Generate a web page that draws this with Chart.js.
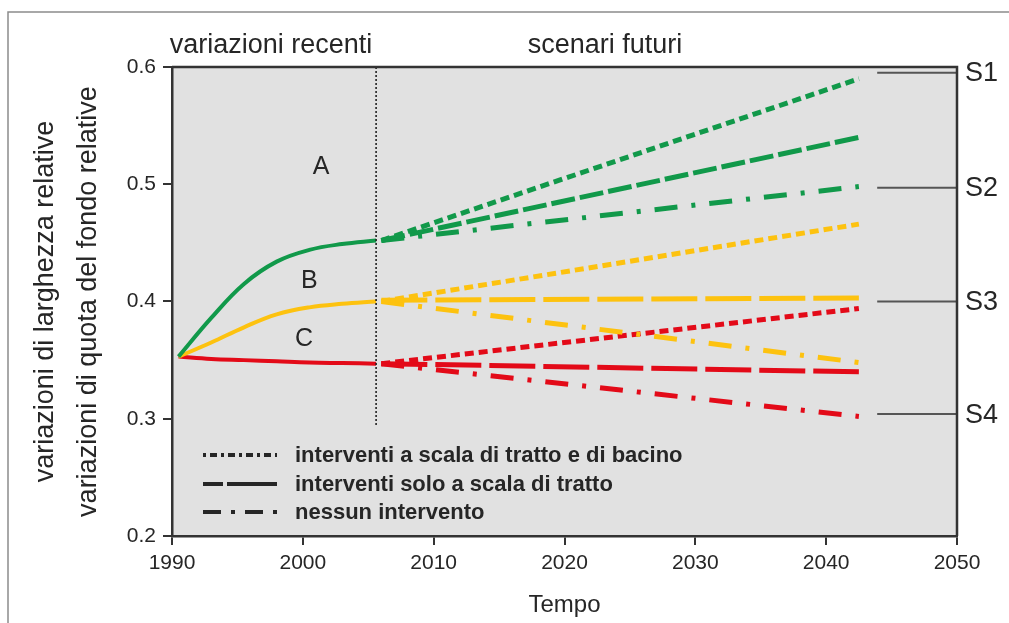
<!DOCTYPE html>
<html>
<head>
<meta charset="utf-8">
<script src="https://cdn.jsdelivr.net/npm/chart.js@4.4.0/dist/chart.umd.min.js"></script>
<style>
  html, body { margin: 0; padding: 0; background: #fff; }
  #wrap { position: relative; width: 1009px; height: 623px; }
</style>
</head>
<body>
<div id="wrap"><canvas id="chart"></canvas></div>
<script>
// --- DATA ---
// recent variations (1990 - 2005)
const histYears  = [1990.5, 1993, 1995.5, 1998, 2000.5, 2003, 2005.6];
const histGreen  = [0.353, 0.386, 0.415, 0.434, 0.444, 0.449, 0.452];
const histYellow = [0.353, 0.365, 0.378, 0.389, 0.395, 0.398, 0.400];
const histRed    = [0.353, 0.351, 0.350, 0.349, 0.348, 0.3475, 0.347];

// future scenarios: start / end of each line
const futYears = [2006, 2042.5];
const futGreen  = { basin: [0.452, 0.590], reach: [0.452, 0.540], none: [0.452, 0.498] };
const futYellow = { basin: [0.400, 0.466], reach: [0.401, 0.403], none: [0.400, 0.348] };
const futRed    = { basin: [0.347, 0.394], reach: [0.347, 0.340], none: [0.347, 0.302] };

// scenario levels on the right
const scenLabels = ["S1", "S2", "S3", "S4"];
const scenValues = [0.595, 0.497, 0.400, 0.304];
const scenYears  = [2043.9, 2050];

// divider between recent and future
const dividerYear = 2005.6;
const dividerRange = [0.6, 0.293];

// area letters
const areaLabels = ["A", "B", "C"];
const areaYears  = [2001.4, 2000.5, 2000.1];
const areaValues = [0.515, 0.417, 0.368];

const legendLabels = [
  "interventi a scala di tratto e di bacino",
  "interventi solo a scala di tratto",
  "nessun intervento"
];

const xTicks = [1990, 2000, 2010, 2020, 2030, 2040, 2050];
const yTicks = [0.2, 0.3, 0.4, 0.5, 0.6];

// --- STYLE ---
const GREEN = '#11994a';
const YELLOW = '#fdc20f';
const RED = '#e30a18';
const INK = '#262626';
const FONT = '"Liberation Sans", Arial, sans-serif';

const DASH_BASIN = [9, 5];
const DASH_REACH_G = [24, 5];
const DASH_REACH = [46, 8];
const DASH_NONE = [23, 14, 4, 14];

function pts(xs, ys) { return xs.map((x, i) => ({ x: x, y: ys[i] })); }

function hist(values, color) {
  return { data: pts(histYears, values), borderColor: color, borderWidth: 4,
           tension: 0.4, pointRadius: 0 };
}
function fut(values, color, dash) {
  return { data: pts(futYears, values), borderColor: color, borderWidth: 5,
           borderDash: dash, pointRadius: 0, borderCapStyle: 'butt' };
}

const datasets = [
  { data: [{ x: dividerYear, y: dividerRange[0] }, { x: dividerYear, y: dividerRange[1] }],
    borderColor: '#222', borderWidth: 1.6, borderDash: [2, 2], pointRadius: 0 },
  hist(histGreen, GREEN), hist(histYellow, YELLOW), hist(histRed, RED),
  fut(futGreen.basin, GREEN, DASH_BASIN), fut(futGreen.reach, GREEN, DASH_REACH_G), fut(futGreen.none, GREEN, DASH_NONE),
  fut(futYellow.basin, YELLOW, DASH_BASIN), fut(futYellow.reach, YELLOW, DASH_REACH), fut(futYellow.none, YELLOW, DASH_NONE),
  fut(futRed.basin, RED, DASH_BASIN), fut(futRed.reach, RED, DASH_REACH), fut(futRed.none, RED, DASH_NONE)
];
scenValues.forEach(v => {
  datasets.push({ data: [{ x: scenYears[0], y: v }, { x: scenYears[1], y: v }],
                  borderColor: '#555', borderWidth: 2, pointRadius: 0 });
});

// --- extra drawing: background, frame, texts, legend ---
const decor = {
  id: 'decor',
  beforeDraw(chart) {
    const { ctx, chartArea: a } = chart;
    ctx.save();
    ctx.fillStyle = '#e1e1e1';
    ctx.fillRect(a.left, a.top, a.right - a.left, a.bottom - a.top);
    // outer figure border (top + left)
    ctx.strokeStyle = '#8c8c8c';
    ctx.lineWidth = 1.5;
    ctx.beginPath();
    ctx.moveTo(1009, 12); ctx.lineTo(8, 12); ctx.lineTo(8, 623);
    ctx.stroke();
    ctx.restore();
  },
  afterDraw(chart) {
    const { ctx, chartArea: a, scales } = chart;
    const xs = scales.x, ys = scales.y;
    ctx.save();
    // top + right frame
    ctx.strokeStyle = '#333';
    ctx.lineWidth = 2.5;
    ctx.beginPath();
    ctx.moveTo(a.left, a.top); ctx.lineTo(a.right, a.top); ctx.lineTo(a.right, a.bottom);
    ctx.stroke();

    ctx.fillStyle = INK;
    ctx.textBaseline = 'middle';
    ctx.textAlign = 'center';
    ctx.font = '27px ' + FONT;
    ctx.fillText('variazioni recenti', 271, 46);
    ctx.fillText('scenari futuri', 605, 46);

    ctx.font = '25px ' + FONT;
    areaLabels.forEach((t, i) => {
      ctx.fillText(t, xs.getPixelForValue(areaYears[i]), ys.getPixelForValue(areaValues[i]));
    });

    ctx.textAlign = 'left';
    ctx.font = '27px ' + FONT;
    scenLabels.forEach((t, i) => {
      ctx.fillText(t, a.right + 8, ys.getPixelForValue(scenValues[i]) + 1);
    });

    // legend
    const lx0 = a.left + 31, lx1 = a.left + 105, tx = a.left + 123;
    const rows = [a.top + 388, a.top + 417, a.top + 445];
    const dashes = [[3, 4, 7, 4], [20, 4, 50, 0], [18, 10, 4, 10]];
    ctx.strokeStyle = INK;
    ctx.lineWidth = 4;
    rows.forEach((y, i) => {
      ctx.setLineDash(dashes[i]);
      ctx.beginPath();
      ctx.moveTo(lx0, y); ctx.lineTo(lx1, y);
      ctx.stroke();
    });
    ctx.setLineDash([]);
    ctx.font = 'bold 22px ' + FONT;
    legendLabels.forEach((t, i) => ctx.fillText(t, tx, rows[i] + 1));
    ctx.restore();
  }
};

new Chart(document.getElementById('chart'), {
  type: 'line',
  data: { datasets: datasets },
  options: {
    responsive: true,
    maintainAspectRatio: false,
    animation: false,
    layout: { padding: { top: 67, right: 52, left: 0, bottom: 0 } },
    plugins: { legend: { display: false }, tooltip: { enabled: false } },
    scales: {
      x: {
        type: 'linear', min: 1990, max: 2050,
        afterFit: s => { s.height = 87; },
        afterBuildTicks: s => { s.ticks = xTicks.map(v => ({ value: v })); },
        ticks: { font: { size: 21, family: FONT }, color: INK, padding: 6,
                 maxRotation: 0, callback: v => String(v) },
        grid: { drawOnChartArea: false, drawTicks: true, tickLength: 9, color: '#333', lineWidth: 2 },
        border: { display: true, color: '#333', width: 2.5 },
        title: { display: true, text: 'Tempo', color: INK,
                 font: { size: 24, family: FONT }, padding: { top: 0, bottom: 3 } }
      },
      y: {
        type: 'linear', min: 0.2, max: 0.6,
        afterFit: s => { s.width = 172; },
        afterBuildTicks: s => { s.ticks = yTicks.map(v => ({ value: v })); },
        ticks: { font: { size: 21, family: FONT }, color: INK, padding: 7,
                 callback: v => v.toFixed(1) },
        grid: { drawOnChartArea: false, drawTicks: true, tickLength: 9, color: '#333', lineWidth: 2 },
        border: { display: true, color: '#333', width: 2.5 },
        title: { display: true,
                 text: ['variazioni di larghezza relative', 'variazioni di quota del fondo relative'],
                 color: INK, font: { size: 27, family: FONT, lineHeight: 1.6 },
                 padding: { top: 24, bottom: 0 } }
      }
    }
  },
  plugins: [decor]
});
</script>
</body>
</html>
